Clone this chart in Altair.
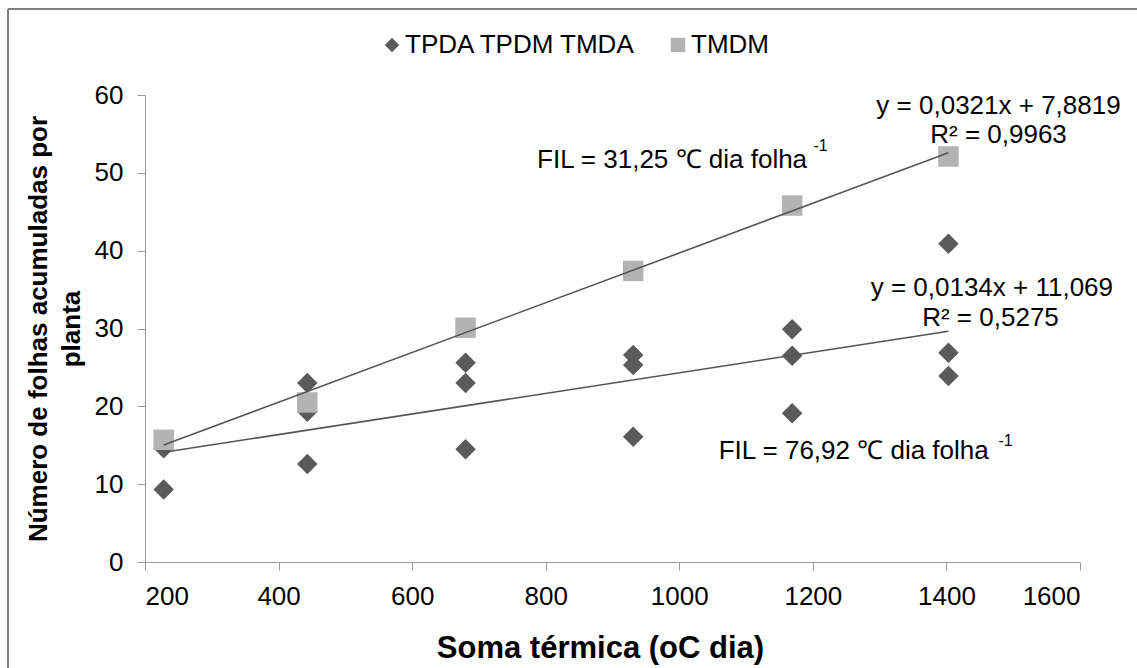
import altair as alt
import pandas as pd

# ---- data ----
soma = [228, 443, 680, 931, 1169, 1403]
grupo_a = "TPDA TPDM TMDA"
grupo_b = "TMDM"
serie_1 = [9.3, 23.0, 25.6, 26.6, 29.9, 40.9]
serie_2 = [14.6, 19.3, 23.0, 25.3, 26.5, 26.9]
serie_3 = [15.0, 12.6, 14.5, 16.1, 19.1, 23.9]
tmdm = [15.7, 20.5, 30.1, 37.4, 45.8, 52.1]

x_ticks = [200, 400, 600, 800, 1000, 1200, 1400, 1600]
y_ticks = [0, 10, 20, 30, 40, 50, 60]

ann_text = ["y = 0,0321x + 7,8819", "R\u00b2 = 0,9963",
            "y = 0,0134x + 11,069", "R\u00b2 = 0,5275"]
ann_x = [1478, 1478, 1468, 1466]
ann_y = [58.6, 54.9, 35.2, 31.4]

fil_text = ["FIL = 31,25 \u2103 dia folha", "FIL = 76,92 \u2103 dia folha"]
fil_x = [787, 1059]
fil_y = [51.7, 14.2]
sup_text = ["-1", "-1"]
sup_x = [1201, 1478]
sup_y = [53.5, 15.5]

rows = []
for s in (serie_1, serie_2, serie_3):
    for xv, yv in zip(soma, s):
        rows.append({"soma": xv, "folhas": yv, "grupo": grupo_a})
for xv, yv in zip(soma, tmdm):
    rows.append({"soma": xv, "folhas": yv, "grupo": grupo_b})
df = pd.DataFrame(rows)

FONT = "Liberation Sans"

xscale = alt.Scale(domain=[200, 1600], nice=False, zero=False)
yscale = alt.Scale(domain=[0, 60], nice=False)

xaxis = alt.Axis(values=x_ticks, grid=False, title="Soma térmica (oC dia)", format="d",
                 titleFontWeight="bold", titleFontSize=31, titleFont=FONT,
                 titleX=455, titleY=86, titleBaseline="middle", titleColor="#000",
                 labelFontSize=26, labelFont=FONT, labelColor="#000",
                 labelPadding=13, tickSize=8, tickColor="#999", domainColor="#999")
yaxis = alt.Axis(values=y_ticks, grid=False, format="d",
                 title=["Número de folhas acumuladas por", "planta"],
                 titleFontWeight="bold", titleFontSize=26, titleFont=FONT,
                 titleX=-120, titleBaseline="top", titleLineHeight=33, titleColor="#000",
                 labelFontSize=26, labelFont=FONT, labelColor="#000",
                 labelPadding=14, tickSize=8, tickColor="#999", domainColor="#999")

leg = alt.Legend(title=None, orient="none", legendX=234, legendY=-63,
                 direction="horizontal", labelFont=FONT, labelFontSize=26,
                 labelColor="#000", symbolSize=210, labelOffset=0, labelLimit=500,
                 columnPadding=28, symbolStrokeWidth=0)

base = alt.Chart(df)

points = base.mark_point(filled=True, opacity=1, size=420).encode(
    x=alt.X("soma:Q", scale=xscale, axis=xaxis),
    y=alt.Y("folhas:Q", scale=yscale, axis=yaxis),
    color=alt.Color("grupo:N",
                    scale=alt.Scale(domain=[grupo_a, grupo_b], range=["#5a5a5a", "#b3b3b3"]),
                    legend=leg),
    shape=alt.Shape("grupo:N",
                    scale=alt.Scale(domain=[grupo_a, grupo_b], range=["diamond", "square"]),
                    legend=leg),
)

lines = base.transform_regression("soma", "folhas", groupby=["grupo"]).mark_line(
    color="#555555", strokeWidth=1.6
).encode(x=alt.X("soma:Q", scale=xscale), y=alt.Y("folhas:Q", scale=yscale), detail="grupo:N")

ann_df = pd.DataFrame({"x": ann_x, "y": ann_y, "t": ann_text})
ann = alt.Chart(ann_df).mark_text(font=FONT, fontSize=26, align="center", baseline="middle",
                                  color="#000").encode(
    x=alt.X("x:Q", scale=xscale), y=alt.Y("y:Q", scale=yscale), text="t:N")

fil_df = pd.DataFrame({"x": fil_x, "y": fil_y, "t": fil_text})
fil = alt.Chart(fil_df).mark_text(font=FONT, fontSize=26, align="left", baseline="middle",
                                  color="#000").encode(
    x=alt.X("x:Q", scale=xscale), y=alt.Y("y:Q", scale=yscale), text="t:N")

sup_df = pd.DataFrame({"x": sup_x, "y": sup_y, "t": sup_text})
sup = alt.Chart(sup_df).mark_text(font=FONT, fontSize=16, align="left", baseline="middle",
                                  color="#000").encode(
    x=alt.X("x:Q", scale=xscale), y=alt.Y("y:Q", scale=yscale), text="t:N")

one = pd.DataFrame({"a": [0]})
border_left = alt.Chart(one).mark_rule(color="#808080", strokeWidth=2).encode(
    x=alt.value(-137), y=alt.value(-86), y2=alt.value(573))
border_top = alt.Chart(one).mark_rule(color="#808080", strokeWidth=2).encode(
    x=alt.value(-137), x2=alt.value(992), y=alt.value(-86))

chart = alt.layer(border_left, border_top, points, lines, ann, fil, sup).properties(
    width=935, height=467,
    autosize=alt.AutoSizeParams(type="none"),
    padding={"left": 145, "top": 95, "right": 57, "bottom": 106},
    background="white",
).configure_view(stroke=None)

chart.save("out.html", embed_options={"renderer": "svg", "actions": False})
